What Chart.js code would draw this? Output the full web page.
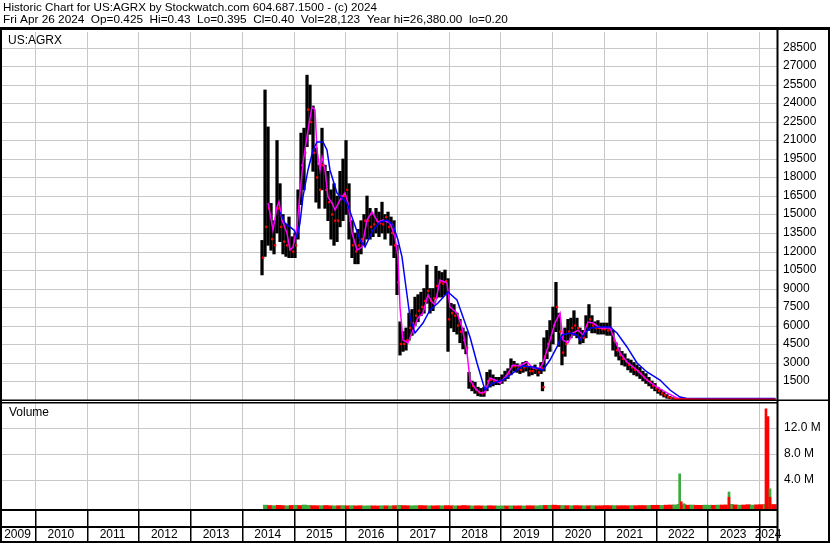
<!DOCTYPE html>
<html><head><meta charset="utf-8">
<script src="https://cdn.jsdelivr.net/npm/chart.js@4.4.1/dist/chart.umd.min.js"></script>
<style>html,body{margin:0;padding:0;background:#fff;overflow:hidden}canvas{display:block}</style>
</head><body>
<canvas id="c" width="830" height="543"></canvas>
<script>
const titleLine1 = "Historic Chart for US:AGRX by Stockwatch.com 604.687.1500 - (c) 2024";
const titleLine2 = "Fri Apr 26 2024  Op=0.425  Hi=0.43  Lo=0.395  Cl=0.40  Vol=28,123  Year hi=26,380.00  lo=0.20";
const symbolLabel = "US:AGRX";
const volumeLabel = "Volume";

const yearTicks = [2010,2011,2012,2013,2014,2015,2016,2017,2018,2019,2020,2021,2022,2023,2024];
const yearLabels = ["2009","2010","2011","2012","2013","2014","2015","2016","2017","2018","2019","2020","2021","2022","2023","2024"];
const priceTicks = [1500,3000,4500,6000,7500,9000,10500,12000,13500,15000,16500,18000,19500,21000,22500,24000,25500,27000,28500];
const volumeTicks = [4000000,8000000,12000000];
const volumeTickLabels = ["4.0 M","8.0 M","12.0 M"];

const priceDates = [2014.390,2014.448,2014.506,2014.564,2014.622,2014.680,2014.738,2014.796,2014.854,2014.912,2014.970,
2015.028,2015.086,2015.144,2015.202,2015.260,2015.318,2015.376,2015.434,2015.492,2015.550,2015.608,2015.666,2015.724,2015.782,2015.840,2015.898,2015.956,
2016.014,2016.072,2016.130,2016.188,2016.246,2016.304,2016.362,2016.420,2016.478,2016.536,2016.594,2016.652,2016.710,2016.768,2016.826,2016.884,2016.942,
2017.000,2017.058,2017.116,2017.174,2017.232,2017.290,2017.348,2017.406,2017.464,2017.522,2017.580,2017.638,2017.696,2017.754,2017.812,2017.870,2017.928,2017.986,
2018.044,2018.102,2018.160,2018.218,2018.276,2018.334,2018.392,2018.450,2018.508,2018.566,2018.624,2018.682,2018.740,2018.798,2018.856,2018.914,2018.972,
2019.030,2019.088,2019.146,2019.204,2019.262,2019.320,2019.378,2019.436,2019.494,2019.552,2019.610,2019.668,2019.726,2019.784,2019.813,2019.842,2019.900,2019.958,
2020.016,2020.074,2020.132,2020.190,2020.248,2020.306,2020.364,2020.422,2020.480,2020.538,2020.596,2020.654,2020.712,2020.770,2020.828,2020.886,2020.944,
2021.002,2021.060,2021.118,2021.176,2021.234,2021.292,2021.350,2021.408,2021.466,2021.524,2021.582,2021.640,2021.698,2021.756,2021.814,2021.872,2021.930,2021.988,
2022.046,2022.104,2022.162,2022.220,2022.278,2022.336];
const priceHigh = [12900,25100,22100,15900,14500,21000,17500,15000,14200,14800,13200,
13500,17000,21600,22000,26300,25500,23800,20400,19000,22000,19000,18500,17000,17500,16500,18500,19500,
21000,17500,14500,13500,13800,14500,15000,16500,15500,15000,15500,15200,16000,15000,15200,14800,14500,
12500,6300,5500,5800,7000,7300,8300,8500,8700,9000,10900,9000,9000,10800,10400,10300,10500,9800,
7800,7700,7000,6500,5800,5500,2200,1500,1400,1000,900,1000,2200,2400,2000,1800,1800,
2000,2300,2500,3300,3100,2900,2800,3000,3100,2700,2600,2800,2500,3000,1400,5000,5600,6400,
7500,9500,7000,5000,5800,6500,6600,7200,6600,5800,5600,6800,7700,6800,6300,6400,6200,
6200,6200,7500,5600,4600,4200,3900,3700,3300,3200,3000,2800,2600,2300,2100,1800,1500,1300,
1000,800,600,400,250,150];
const priceLow = [10100,11600,12500,12100,11800,13500,12800,11800,11600,11500,11500,
11500,13000,15800,17000,20500,21500,18500,16000,15500,17000,15500,14500,13000,12500,12800,14000,14500,
15000,13000,11500,11000,11000,11800,12500,13000,13000,13200,13500,13200,13500,13000,13500,12500,11500,
8500,3600,3900,4000,4800,5200,6000,6300,6800,7000,7800,7000,7200,8200,8300,8300,8500,3900,
5800,5500,5300,4600,4100,3700,900,700,500,300,250,250,700,1000,1100,1200,1200,
1300,1500,1700,2000,2300,2200,2100,2200,2300,1900,2000,2100,1900,2100,700,2300,3300,3900,
4500,5500,4300,2800,3500,4800,5000,5200,5000,4500,4600,5000,5600,5400,5400,5300,5300,
5300,5200,5200,4000,3500,3200,2800,2700,2400,2200,2000,1900,1700,1500,1300,1100,900,700,
500,350,200,100,50,20];
const priceClose = [11500,14000,15500,13000,12500,15500,14000,12800,12500,12200,12000,
12500,15500,19000,20000,23500,22500,20000,18000,17000,19000,17000,16000,15000,14500,14500,16500,16500,
17000,14500,12500,12000,12500,13000,14500,14500,14000,14200,14500,14300,14200,14800,14000,13500,12500,
9500,4500,4500,4800,5800,6200,6800,7200,7500,8000,8800,8000,8200,9200,9500,9400,9600,6500,
7000,6800,6000,5500,4800,4200,1500,1100,800,600,500,600,1500,1600,1500,1500,1500,
1600,1900,2100,2700,2700,2500,2400,2600,2700,2300,2300,2500,2200,2500,1000,3500,4500,5000,
6000,7500,5500,3800,4500,5500,5800,6000,5800,5000,5000,6000,6500,6000,5800,5800,5700,
5700,5600,5800,4800,4000,3600,3300,3100,2800,2600,2400,2300,2100,1800,1600,1400,1100,900,
700,500,350,200,120,50];

const maShortDates = [2014.506,2014.544,2014.602,2014.680,2014.718,2014.776,2014.873,2014.931,2014.989,2015.066,2015.124,2015.182,2015.279,2015.356,2015.414,2015.453,2015.511,2015.550,2015.608,2015.666,2015.743,2015.801,2015.898,2015.994,2016.052,2016.130,2016.227,2016.323,2016.420,2016.517,2016.633,2016.729,2016.865,2016.961,2017.019,2017.058,2017.116,2017.213,2017.309,2017.406,2017.503,2017.599,2017.677,2017.735,2017.831,2017.967,2018.025,2018.160,2018.257,2018.354,2018.412,2018.508,2018.605,2018.702,2018.798,2018.895,2018.992,2019.127,2019.243,2019.378,2019.514,2019.630,2019.765,2019.823,2019.920,2020.055,2020.152,2020.210,2020.307,2020.403,2020.500,2020.597,2020.693,2020.790,2020.925,2021.119,2021.215,2021.312,2021.447,2021.641,2021.834,2022.028,2022.221,2022.414,2022.666,2024.320];
const maShortValues = [15930,15120,13740,15610,16020,14550,13500,12120,12360,13990,16740,19170,21850,23710,23470,20230,18610,19660,18610,16420,15930,15360,16180,16740,15930,13500,12120,12360,14550,15200,14390,14550,14310,13170,11550,7500,4820,4580,5630,6610,7010,8470,7900,7660,9690,9450,7500,7010,5880,3770,1580,930,530,610,1740,1580,1340,1990,2800,2720,3040,2550,2550,2960,4260,6200,7010,4820,4580,5390,5630,5230,6280,6200,5800,5800,4820,3770,3040,2390,1580,1010,530,120,40,10];

const maLongDates = [2014.738,2014.834,2014.931,2015.008,2015.066,2015.124,2015.182,2015.279,2015.376,2015.453,2015.569,2015.646,2015.704,2015.840,2016.033,2016.149,2016.285,2016.381,2016.536,2016.671,2016.807,2016.923,2017.019,2017.097,2017.155,2017.251,2017.348,2017.503,2017.638,2017.793,2017.986,2018.160,2018.276,2018.412,2018.547,2018.644,2018.702,2018.856,2019.050,2019.243,2019.436,2019.630,2019.823,2019.959,2020.094,2020.191,2020.345,2020.481,2020.539,2020.635,2020.732,2020.925,2021.119,2021.254,2021.447,2021.641,2021.834,2022.086,2022.279,2022.472,2022.608,2024.320];
const maLongValues = [15200,14310,13990,13740,13170,14310,16420,18610,20230,20880,20880,20230,18610,16740,15930,14550,12930,12360,13740,14390,14550,14150,12930,11550,9690,6690,5390,6200,7260,7820,8720,8070,6690,5070,2960,1580,770,1340,1580,2150,2720,2640,2390,3200,4260,5230,5390,5230,4820,5390,5800,5880,5880,5390,4260,2960,2230,1580,770,200,90,90];

const tailDates = [2022.336,2022.600,2023.000,2023.500,2024.000,2024.320];
const tailValues = [20,12,8,5,3,1];

const volMonths = ["2014-06","2014-07","2014-08","2014-09","2014-10","2014-11","2014-12",
"2015-01","2015-02","2015-03","2015-04","2015-05","2015-06","2015-07","2015-08","2015-09","2015-10","2015-11","2015-12",
"2016-01","2016-02","2016-03","2016-04","2016-05","2016-06","2016-07","2016-08","2016-09","2016-10","2016-11","2016-12",
"2017-01","2017-02","2017-03","2017-04","2017-05","2017-06","2017-07","2017-08","2017-09","2017-10","2017-11","2017-12",
"2018-01","2018-02","2018-03","2018-04","2018-05","2018-06","2018-07","2018-08","2018-09","2018-10","2018-11","2018-12",
"2019-01","2019-02","2019-03","2019-04","2019-05","2019-06","2019-07","2019-08","2019-09","2019-10","2019-11","2019-12",
"2020-01","2020-02","2020-03","2020-04","2020-05","2020-06","2020-07","2020-08","2020-09","2020-10","2020-11","2020-12",
"2021-01","2021-02","2021-03","2021-04","2021-05","2021-06","2021-07","2021-08","2021-09","2021-10","2021-11","2021-12",
"2022-01","2022-02","2022-03","2022-04","2022-05","2022-06","2022-07","2022-08","2022-09","2022-10","2022-11","2022-12",
"2023-01","2023-02","2023-03","2023-04","2023-05","2023-06","2023-07","2023-08","2023-09","2023-10","2023-11","2023-12",
"2024-01","2024-02","2024-03","2024-04"];
const volValues = [180000,120000,90000,150000,110000,80000,130000,
160000,120000,200000,140000,110000,90000,100000,130000,80000,70000,90000,110000,
80000,100000,70000,90000,60000,80000,70000,60000,90000,80000,70000,100000,
150000,110000,90000,80000,100000,120000,90000,80000,70000,90000,80000,110000,
90000,80000,70000,130000,90000,60000,80000,70000,60000,90000,70000,60000,
70000,60000,80000,60000,70000,60000,90000,80000,70000,120000,140000,160000,
180000,130000,120000,100000,90000,110000,90000,80000,90000,100000,80000,90000,
120000,100000,110000,90000,100000,90000,110000,100000,120000,110000,130000,150000,
160000,140000,180000,200000,220000,300000,250000,180000,200000,160000,150000,180000,
170000,160000,190000,200000,210000,300000,220000,180000,200000,250000,190000,230000,
260000,300000,350000,280000];
const volUp = [1,0,1,0,0,1,0, 1,0,1,1,0,0,1,0,0,1,0,1, 0,1,0,0,1,1,0,0,1,0,1,0,
1,0,0,1,1,0,0,1,0,0,1,0, 0,1,0,0,0,1,0,0,1,0,0,1, 1,0,1,0,0,1,0,0,1,1,0,1,
0,0,1,0,1,0,0,1,0,1,0,0, 0,0,1,0,0,0,1,0,0,0,1,0, 0,1,0,0,1,1,0,0,1,0,0,1,
1,0,1,0,0,1,0,1,0,0,1,0, 0,1,1,0];

const spikeDates = [2022.466,2022.497,2022.550,2023.420,2023.420,2024.135,2024.174,2024.213,2024.213];
const spikeValues = [5000000,700000,400000,2200000,1400000,15000000,13800000,2700000,1400000];
const spikeUp = [1,0,1,1,0,0,0,1,0];

const FONT = '12px "Liberation Sans", Arial, sans-serif';
const HEAD_FONT1 = '11.65px "Liberation Sans", Arial, sans-serif';
const HEAD_FONT2 = '11.8px "Liberation Sans", Arial, sans-serif';
const GRID = '#c8c8c8';
const GREEN = '#3caa3c';
const RED = '#ff0000';

function monthToYear(s){ const [y,m] = s.split('-').map(Number); return y + (m - 0.5)/12; }

const barData = priceDates.map((d,i)=>({x:d, y:[priceLow[i], priceHigh[i]]}));
const closeData = priceDates.map((d,i)=>({x:d + 0.022, y:priceClose[i]}));
const shortData = maShortDates.map((d,i)=>({x:d, y:maShortValues[i]}));
const longData = maLongDates.map((d,i)=>({x:d, y:maLongValues[i]}));
const tailData = tailDates.map((d,i)=>({x:d, y:tailValues[i]}));
const volData = volMonths.map((m,i)=>({x:monthToYear(m), y:volValues[i]}));
const spikeData = spikeDates.map((d,i)=>({x:d, y:spikeValues[i]}));

const framePlugin = {
  id:'frame',
  beforeDatasetsDraw(chart){
    const {ctx, chartArea:a, scales:{x, y, yv}} = chart;
    ctx.save();
    ctx.strokeStyle = GRID; ctx.lineWidth = 1;
    ctx.beginPath();
    yearTicks.forEach(t=>{
      const px = Math.round(x.getPixelForValue(t)) + 0.5;
      ctx.moveTo(px, a.top); ctx.lineTo(px, 400);
      ctx.moveTo(px, 403); ctx.lineTo(px, a.bottom);
    });
    priceTicks.forEach(v=>{
      const py = Math.round(y.getPixelForValue(v)) + 0.5;
      ctx.moveTo(a.left, py); ctx.lineTo(a.right, py);
    });
    volumeTicks.forEach(v=>{
      const py = Math.round(yv.getPixelForValue(v)) + 0.5;
      ctx.moveTo(a.left, py); ctx.lineTo(a.right, py);
    });
    ctx.stroke();
    ctx.restore();
  },
  afterDraw(chart){
    const {ctx, chartArea:a, scales:{x, y, yv}} = chart;
    ctx.save();
    ctx.fillStyle = '#000';
    ctx.textBaseline = 'middle'; ctx.textAlign = 'left';
    ctx.font = HEAD_FONT1;
    ctx.fillText(titleLine1, 3, 8);
    ctx.font = HEAD_FONT2;
    ctx.fillText(titleLine2, 3, 20);
    ctx.fillRect(0, 27, 830, 3);
    ctx.font = FONT;
    ctx.fillRect(0, 27, 2, 516);
    ctx.fillRect(776.5, 30, 2, 513);
    ctx.fillRect(828, 27, 2, 516);
    ctx.fillRect(0, 399.5, 830, 1.5);
    ctx.fillRect(0, 402, 778, 1.5);
    ctx.fillRect(0, 509, 778, 2);
    ctx.fillRect(0, 526, 778, 2);
    ctx.fillRect(0, 541, 830, 2);
    yearTicks.forEach(t=>{
      const px = Math.round(x.getPixelForValue(t));
      ctx.fillRect(px, 510, 1.5, 32);
    });
    ctx.fillText(symbolLabel, 8, 41);
    ctx.fillText(volumeLabel, 9, 413);
    priceTicks.forEach(v=>{
      ctx.fillText(String(v), 783, Math.round(y.getPixelForValue(v)));
    });
    volumeTicks.forEach((v,i)=>{
      ctx.fillText(volumeTickLabels[i], 784, Math.round(yv.getPixelForValue(v)));
    });
    const bounds = [x.min].concat(yearTicks).concat([x.max]);
    ctx.textAlign = 'center';
    yearLabels.forEach((lab,i)=>{
      const l = x.getPixelForValue(bounds[i]);
      const r = Math.min(x.getPixelForValue(bounds[i+1]), 777);
      ctx.fillText(lab, (l + r)/2, 534.5);
    });
    ctx.restore();
  }
};

new Chart(document.getElementById('c'), {
  type:'bar',
  data:{ datasets:[
    {type:'line', data:tailData, borderColor:RED, borderWidth:2, pointRadius:0, yAxisID:'y', order:1},
    {type:'line', data:longData, borderColor:'#0000ff', borderWidth:1.5, pointRadius:0, yAxisID:'y', order:2},
    {type:'line', data:shortData, borderColor:'#ff00ff', borderWidth:1.5, pointRadius:0, yAxisID:'y', order:3},
    {type:'line', data:closeData, showLine:false, pointStyle:'rect', pointRadius:1.6, pointBorderWidth:0, pointBackgroundColor:RED, yAxisID:'y', order:4},
    {type:'bar', data:barData, backgroundColor:'#000', barThickness:2.6, grouped:false, yAxisID:'y', order:5},
    {type:'bar', data:spikeData, backgroundColor:spikeUp.map(u=>u?GREEN:RED), barThickness:2, grouped:false, yAxisID:'yv', base:-415000, order:6},
    {type:'bar', data:volData, backgroundColor:volUp.map(u=>u?GREEN:RED), barThickness:4.4, grouped:false, yAxisID:'yv', base:-415000, minBarLength:3, order:7}
  ]},
  options:{
    responsive:false, animation:false, devicePixelRatio:1,
    layout:{autoPadding:false, padding:{left:0, right:52, top:32, bottom:34}},
    plugins:{legend:{display:false}, tooltip:{enabled:false}, title:{display:false}},
    scales:{
      x:{type:'linear', display:false, offset:false, min:2009.3232, max:2024.3675},
      y:{type:'linear', display:false, min:-8878, max:29797},
      yv:{type:'linear', display:false, min:-415000, max:72970000}
    }
  },
  plugins:[framePlugin]
});
</script>
</body></html>
